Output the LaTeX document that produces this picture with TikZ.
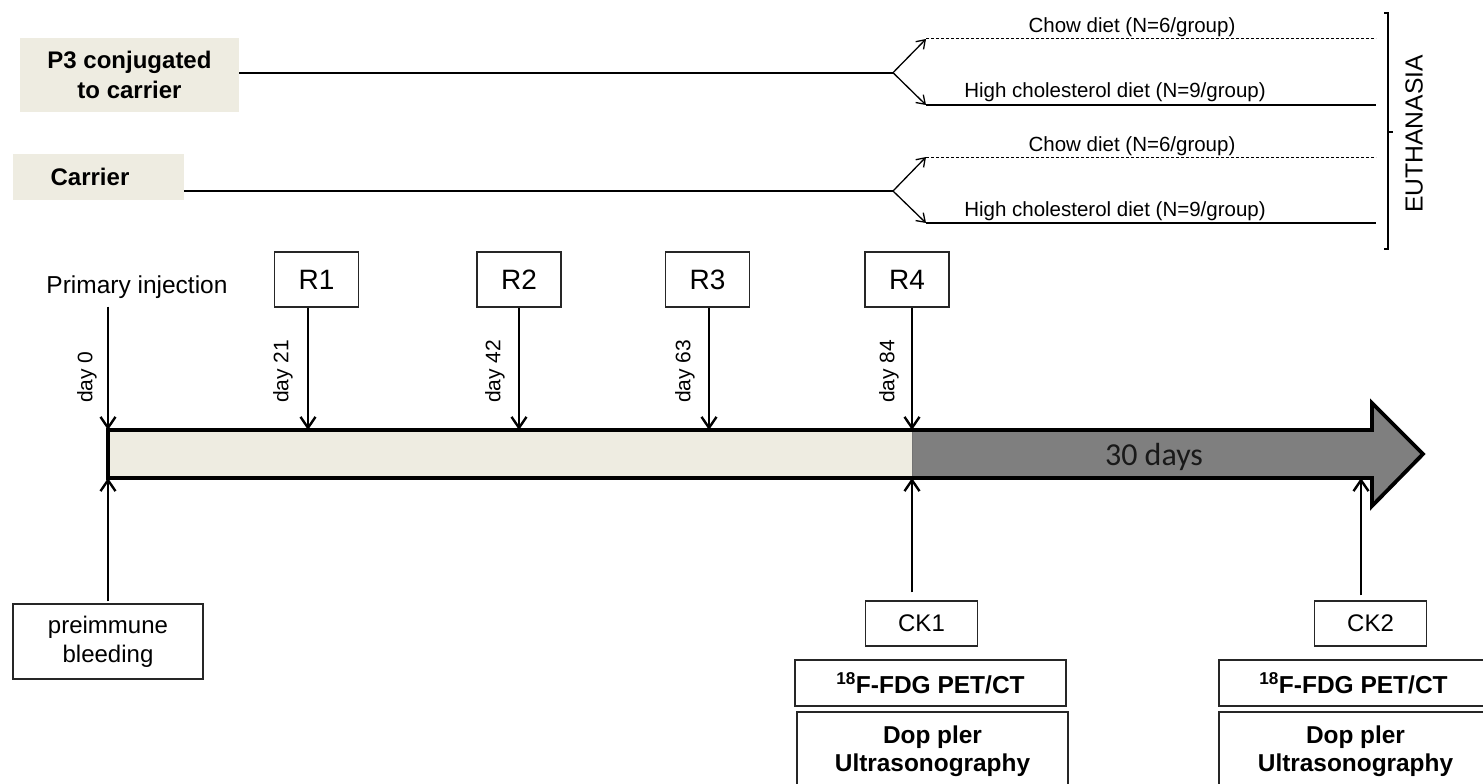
\documentclass[tikz,border=0pt]{standalone}
\usepackage{fontspec}
\setmainfont{Liberation Sans}
\newfontfamily\calib{Carlito}
\usetikzlibrary{arrows.meta}
\definecolor{beige}{HTML}{EEECE1}
\definecolor{arrgray}{HTML}{7F7F7F}
\begin{document}
\begin{tikzpicture}[x=1pt,y=-1pt,
  groupbox/.style={fill=beige, draw=none, inner sep=0pt, align=center,
    font=\fontsize{24}{30}\selectfont\bfseries},
  diettext/.style={inner sep=0pt, font=\fontsize{20.5}{24}\selectfont},
  mainline/.style={line width=2pt},
  branch/.style={line width=1.3pt, -{Straight Barb[length=8pt,width=11pt]}},
  dietsolid/.style={line width=2pt},
  dietdash/.style={line width=1pt, dash pattern=on 3pt off 2pt},
  frame/.style={draw=black!85, line width=1.3pt, fill=white, inner sep=0pt},
  rbox/.style={frame, minimum width=84pt, minimum height=55pt, font=\fontsize{28}{30}\selectfont},
  ckbox/.style={frame, minimum width=112pt, minimum height=45pt, font=\fontsize{24}{28}\selectfont},
  bigbox/.style={frame, align=center, font=\fontsize{24.5}{28}\selectfont\bfseries},
  daylab/.style={rotate=90, anchor=west, inner sep=0pt, font=\fontsize{21}{24}\selectfont},
  tick/.style={line width=2.4pt, -{Straight Barb[length=11pt,width=15pt]}}
]
\useasboundingbox (0,0) rectangle (1483,784);
\clip (0,0) rectangle (1483,784);

% ---------- groups ----------
\node[groupbox, minimum width=219pt, minimum height=74pt] (p3) at (129.5,75) {P3 conjugated\\to carrier};
\node[groupbox, minimum width=171pt, minimum height=46pt] (car) at (98.5,177) {};
\node[groupbox] (cartext) at (90,177) {Carrier};

\coordinate (b1) at (893,72.7);
\coordinate (b2) at (893,191);
\draw[mainline] (p3.east |- b1) -- (b1);
\draw[mainline] (car.east |- b2) -- (b2);

\coordinate (c1s) at (926,39);   \coordinate (c1e) at (1376,39);
\coordinate (h1s) at (926,105);  \coordinate (h1e) at (1376,105);
\coordinate (c2s) at (926,157);  \coordinate (c2e) at (1376,157);
\coordinate (h2s) at (926,223);  \coordinate (h2e) at (1376,223);

\draw[branch] (b1) -- (c1s);
\draw[branch] (b1) -- (h1s);
\draw[branch] (b2) -- (c2s);
\draw[branch] (b2) -- (h2s);
\draw[dietdash] (c1s) -- (c1e);
\draw[dietsolid] (h1s) -- (h1e);
\draw[dietdash] (c2s) -- (c2e);
\draw[dietsolid] (h2s) -- (h2e);

\node[diettext] (t1c) at (1132,27) {Chow diet (N=6/group)};
\node[diettext] (t1h) at (1115,92) {High cholesterol diet (N=9/group)};
\node[diettext] (t2c) at (1132,146) {Chow diet (N=6/group)};
\node[diettext] (t2h) at (1115,211) {High cholesterol diet (N=9/group)};

% bracket
\draw[line width=1.3pt] (1384,13) -- (1388,13) -- (1388,249) -- (1384,249);
\draw[line width=1.3pt] (1388,132) -- (1393,132);
\node[rotate=90, inner sep=0pt, font=\fontsize{24.7}{28}\selectfont] (eut) at (1414,134) {EUTHANASIA};

% ---------- timeline ----------
\fill[beige] (108,430) rectangle (912,478);
\fill[arrgray] (912,430) -- (1372,430) -- (1372,403) -- (1423,454) -- (1372,506) -- (1372,478) -- (912,478) -- cycle;
\draw[black!55, line width=0.8pt] (912,430) -- (912,478);
\draw[line width=3.8pt, line join=miter] (108,430) -- (1372,430) -- (1372,403) -- (1423,454) -- (1372,506) -- (1372,478) -- (108,478) -- cycle;
\node[inner sep=0pt, font=\calib\fontsize{32}{36}\selectfont, text=black!90] (days) at (1154,457) {30 days};

\coordinate (t0) at (108,430);
\coordinate (t1) at (308,430);
\coordinate (t2) at (519,430);
\coordinate (t3) at (709,430);
\coordinate (t4) at (912,430);
\coordinate (u0) at (108,478);
\coordinate (u4) at (912,478);
\coordinate (u5) at (1361,478);

\node[inner sep=0pt, font=\fontsize{24.5}{28}\selectfont] (pi) at (137,287) {Primary injection};
\node[rbox] (r1) at (316.5,279.5) {R1};
\node[rbox] (r2) at (519,279.5) {R2};
\node[rbox] (r3) at (707.5,279.5) {R3};
\node[rbox] (r4) at (907,279.5) {R4};

\draw[tick, shorten <=8pt] (pi.south -| t0) -- (t0);
\draw[tick] (r1.south -| t1) -- (t1);
\draw[tick] (r2.south -| t2) -- (t2);
\draw[tick] (r3.south -| t3) -- (t3);
\draw[tick] (r4.south -| t4) -- (t4);

\node[daylab] (d0) at (87,403) {day 0};
\node[daylab] (d21) at (283,403) {day 21};
\node[daylab] (d42) at (495,403) {day 42};
\node[daylab] (d63) at (685,403) {day 63};
\node[daylab] (d84) at (889,403) {day 84};

% ---------- bottom ----------
\node[frame, minimum width=190pt, minimum height=75pt, align=center,
      font=\fontsize{24}{29}\selectfont] (pre) at (108,641.5) {preimmune\\bleeding};
\node[ckbox] (ck1) at (921.5,623.5) {CK1};
\node[ckbox] (ck2) at (1370.5,623.5) {CK2};

\draw[tick, shorten <=2pt] (pre.north -| u0) -- (u0);
\draw[tick, shorten <=8pt] (ck1.north -| u4) -- (u4);
\draw[tick, shorten <=5pt] (ck2.north -| u5) -- (u5);

\node[bigbox, minimum width=271pt, minimum height=46pt] (pet1) at (930.5,683) {\textsuperscript{18}F-FDG PET/CT};
\node[bigbox, minimum width=269pt, minimum height=46pt] (pet2) at (1353.5,683) {\textsuperscript{18}F-FDG PET/CT};
\node[frame, minimum width=271pt, minimum height=90pt] (dop1) at (932.5,757) {};
\node[frame, minimum width=273pt, minimum height=90pt] (dop2) at (1355.5,757) {};
\node[inner sep=0pt, align=center, font=\fontsize{24.4}{28}\selectfont\bfseries] (dop1t) at (932.5,751) {Dop pler\\Ultrasonography};
\node[inner sep=0pt, align=center, font=\fontsize{24.4}{28}\selectfont\bfseries] (dop2t) at (1355.5,751) {Dop pler\\Ultrasonography};
\end{tikzpicture}
\end{document}
